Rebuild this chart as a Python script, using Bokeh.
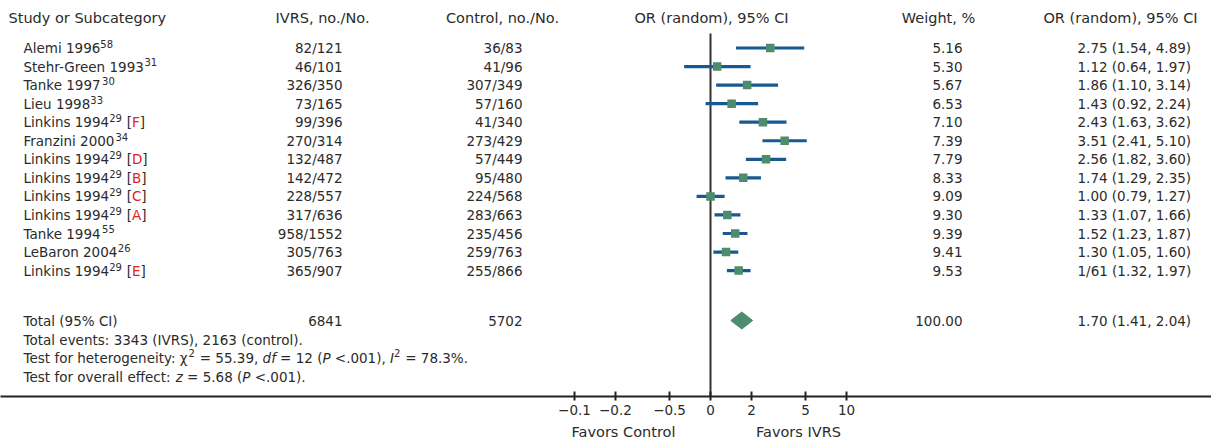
from bokeh.plotting import figure
from bokeh.models import (Range1d, LinearScale, FixedTicker, ColumnDataSource, LinearAxis)
from bokeh.core.properties import value
from bokeh.embed import file_html
from bokeh.resources import INLINE

# ---------------- data ----------------
studies = ["Alemi 1996", "Stehr-Green 1993", "Tanke 1997", "Lieu 1998", "Linkins 1994",
           "Franzini 2000", "Linkins 1994", "Linkins 1994", "Linkins 1994", "Linkins 1994",
           "Tanke 1994", "LeBaron 2004", "Linkins 1994"]
refs = ["58", "31", "30", "33", "29", "34", "29", "29", "29", "29", "55", "26", "29"]
subgroups = ["", "", "", "", "F", "", "D", "B", "C", "A", "", "", "E"]
ivrs = ["82/121", "46/101", "326/350", "73/165", "99/396", "270/314", "132/487",
        "142/472", "228/557", "317/636", "958/1552", "305/763", "365/907"]
control = ["36/83", "41/96", "307/349", "57/160", "41/340", "273/429", "57/449",
           "95/480", "224/568", "283/663", "235/456", "259/763", "255/866"]
weight = [5.16, 5.30, 5.67, 6.53, 7.10, 7.39, 7.79, 8.33, 9.09, 9.30, 9.39, 9.41, 9.53]
or_est = [2.75, 1.12, 1.86, 1.43, 2.43, 3.51, 2.56, 1.74, 1.00, 1.33, 1.52, 1.30, 1.61]
ci_lo = [1.54, 0.64, 1.10, 0.92, 1.63, 2.41, 1.82, 1.29, 0.79, 1.07, 1.23, 1.05, 1.32]
ci_hi = [4.89, 1.97, 3.14, 2.24, 3.62, 5.10, 3.60, 2.35, 1.27, 1.66, 1.87, 1.60, 1.97]
or_text = ["2.75 (1.54, 4.89)", "1.12 (0.64, 1.97)", "1.86 (1.10, 3.14)", "1.43 (0.92, 2.24)",
           "2.43 (1.63, 3.62)", "3.51 (2.41, 5.10)", "2.56 (1.82, 3.60)", "1.74 (1.29, 2.35)",
           "1.00 (0.79, 1.27)", "1.33 (1.07, 1.66)", "1.52 (1.23, 1.87)", "1.30 (1.05, 1.60)",
           "1/61 (1.32, 1.97)"]
total_n = ["6841", "5702"]
total_weight = "100.00"
total_or = [1.70, 1.41, 2.04]
total_or_text = "1.70 (1.41, 2.04)"
headers = ["Study or Subcategory", "IVRS, no./No.", "Control, no./No.",
           "OR (random), 95% CI", "Weight, %", "OR (random), 95% CI"]
tick_values = [0.1, 0.2, 0.5, 1, 2, 5, 10]
tick_labels = ["\u22120.1", "\u22120.2", "\u22120.5", "0", "2", "5", "10"]
favors = ["Favors Control", "Favors IVRS"]
favors_x = [623, 798]

# ---------------- styling ----------------
FONT = "DejaVu Sans"
TXT = "#2b2b2b"
RED = "#e2231a"
BLUE = "#175a93"
GREEN = "#4d8c6c"
BODY = 13.5
SUP = 10.0
HEAD = 14.5

# DejaVu Sans advance widths (units of 1/2048 em), roughly kerning-adjusted
ADV = {" ": 651, "%": 1946, "(": 799, ")": 799, ",": 651, "-": 739, ".": 651, "/": 690,
       ":": 690, "<": 1716, "=": 1716, "[": 799, "]": 799, "\u03c7": 1000,
       "A": 1401, "B": 1405, "C": 1430, "D": 1577, "E": 1294, "F": 1178, "G": 1587,
       "I": 604, "L": 1141, "O": 1612, "P": 1235, "R": 1423, "S": 1300, "T": 1060, "V": 1401,
       "a": 1255, "b": 1300, "c": 1126, "d": 1300, "e": 1260, "f": 700, "g": 1300, "h": 1298,
       "i": 569, "k": 1186, "l": 569, "m": 1995, "n": 1298, "o": 1253, "p": 1300, "r": 842,
       "s": 1067, "t": 803, "u": 1298, "v": 1212, "x": 1212, "y": 1212, "z": 1075}
for d in "0123456789":
    ADV[d] = 1303


def tw(s, size):
    return sum(ADV.get(c, 1250) for c in s) / 2048.0 * size


# y: row units; row i of study i; screen y = Y0 + row*PITCH
Y0, PITCH = 47.5, 18.55
def row(py):
    return (py - Y0) / PITCH

W, H = 1211, 443
LEFT, RIGHT = 0, W
AXIS_Y = 396
XC, DEC = 710.0, 136.0   # screen x of OR=1, pixels per decade

p = figure(width=W, height=H, x_axis_type="log",
           x_range=Range1d(10 ** ((LEFT - XC) / DEC), 10 ** ((RIGHT - XC) / DEC)),
           y_range=Range1d(row(AXIS_Y), row(0)),
           output_backend="svg", toolbar_location=None, y_axis_location=None,
           min_border_left=0, min_border_right=0, min_border_top=0,
           min_border_bottom=H - AXIS_Y)
p.extra_x_ranges = {"px": Range1d(LEFT, RIGHT)}
p.extra_x_scales = {"px": LinearScale()}
p.xgrid.visible = False
p.ygrid.visible = False
p.outline_line_color = None
p.background_fill_color = "white"
p.border_fill_color = "white"

# main OR axis
ax = p.xaxis[0]
ax.ticker = FixedTicker(ticks=tick_values, minor_ticks=[])
ax.major_label_overrides = {v: l for v, l in zip(tick_values, tick_labels)}
ax.axis_line_width = 2
ax.axis_line_color = "#222222"
ax.major_tick_line_color = "#222222"
ax.major_tick_line_width = 2
ax.major_tick_in = 5
ax.major_tick_out = 4
ax.minor_tick_line_color = None
ax.major_label_text_font = FONT
ax.major_label_text_font_size = "13.5px"
ax.major_label_text_color = TXT
ax.major_label_standoff = 4

# second axis holding the "Favors ..." captions
fav = LinearAxis(x_range_name="px",
                 ticker=FixedTicker(ticks=favors_x, minor_ticks=[]),
                 major_label_overrides={v: l for v, l in zip(favors_x, favors)},
                 axis_line_color=None, major_tick_line_color=None,
                 minor_tick_line_color=None, major_tick_in=0, major_tick_out=0,
                 major_label_standoff=6, major_label_text_font=FONT,
                 major_label_text_font_size="14.5px", major_label_text_color=TXT)
p.add_layout(fav, "below")

# ---------------- text segments ----------------
styles = {
    "n": dict(size=BODY, color=TXT, style="normal"),
    "i": dict(size=BODY, color=TXT, style="italic"),
    "s": dict(size=SUP, color=TXT, style="normal"),
    "r": dict(size=BODY, color=RED, style="normal"),
    "h": dict(size=HEAD, color=TXT, style="normal"),
}
buckets = {k: dict(x=[], y=[], t=[], a=[]) for k in styles}


def put(kind, x, y, t, align="left"):
    b = buckets[kind]
    b["x"].append(x); b["y"].append(y); b["t"].append(t); b["a"].append(align)


def chain(x, y, segs):
    for t, kind in segs:
        size = styles[kind]["size"]
        lead = len(t) - len(t.lstrip(" "))
        x += tw(" " * lead, size)
        core = t.strip(" ")
        if core:
            yy = y - 0.22 if kind == "s" else y
            put(kind, x, yy, core)
            x += tw(core, size)
        trail = len(t) - len(t.rstrip(" "))
        x += tw(" " * trail, size)
        if kind == "s":
            x += 0.5
    return x


# headers
yh = row(17)
put("h", 8, yh, headers[0], "left")
put("h", 322, yh, headers[1], "center")
put("h", 502, yh, headers[2], "center")
put("h", 711, yh, headers[3], "center")
put("h", 938, yh, headers[4], "center")
put("h", 1120, yh, headers[5], "center")

# study rows
for i in range(len(studies)):
    segs = [(studies[i], "n"), (refs[i], "s")]
    if subgroups[i]:
        segs += [(" [", "n"), (subgroups[i], "r"), ("]", "n")]
    chain(23, i, segs)
    put("n", 342, i, ivrs[i], "right")
    put("n", 522, i, control[i], "right")
    put("n", 962, i, "%.2f" % weight[i], "right")
    put("n", 1077, i, or_text[i], "left")

# totals
yt = row(320)
put("n", 23, yt, "Total (95% CI)", "left")
put("n", 342, yt, total_n[0], "right")
put("n", 522, yt, total_n[1], "right")
put("n", 962, yt, total_weight, "right")
put("n", 1077, yt, total_or_text, "left")

chain(23, row(339), [("Total events: 3343 (IVRS), 2163 (control).", "n")])
chain(23, row(357), [("Test for heterogeneity: \u03c7", "n"), ("2", "s"), (" = 55.39, ", "n"),
                     ("df", "i"), (" = 12 (", "n"), ("P", "i"), (" <.001), ", "n"),
                     ("I", "i"), ("2", "s"), (" = 78.3%.", "n")])
chain(23, row(376), [("Test for overall effect: ", "n"), ("z", "i"), (" = 5.68 (", "n"),
                     ("P", "i"), (" <.001).", "n")])

for k, st in styles.items():
    b = buckets[k]
    if not b["x"]:
        continue
    src = ColumnDataSource(b)
    p.text(x="x", y="y", text="t", text_align="a", source=src, x_range_name="px",
           text_font=value(FONT), text_font_size="%gpx" % st["size"],
           text_font_style=st["style"], text_color=st["color"], text_baseline="middle")

# ---------------- forest marks ----------------
rows = list(range(len(studies)))
p.segment(x0=[1], y0=[row(33)], x1=[1], y1=[row(AXIS_Y)], line_color="#333333", line_width=2)
src = ColumnDataSource(dict(y=rows, est=or_est, lo=ci_lo, hi=ci_hi, w=weight))
p.segment(x0="lo", y0="y", x1="hi", y1="y", source=src, line_color=BLUE, line_width=3.2)
p.scatter(x="est", y="y", source=src, marker="square", size=8.5, fill_color=GREEN,
          line_color=None)
dh = 8.5 / PITCH
p.patch(x=[total_or[1], total_or[0], total_or[2], total_or[0]],
        y=[yt, yt - dh, yt, yt + dh], fill_color=GREEN, line_color=GREEN, line_width=1)

open("out.html", "w").write(file_html(p, INLINE))
